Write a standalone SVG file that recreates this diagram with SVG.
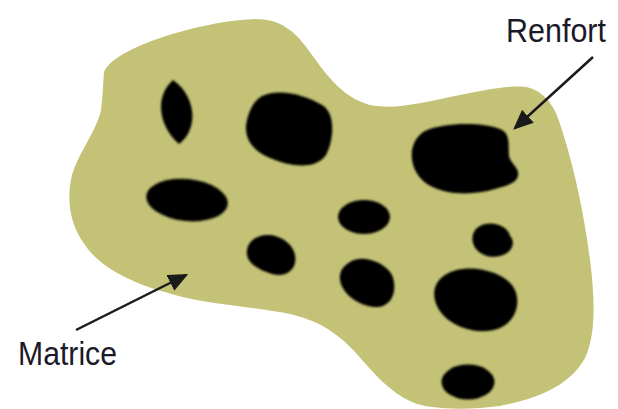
<svg xmlns="http://www.w3.org/2000/svg" width="618" height="409" viewBox="0 0 618 409">
  <style>
    .matrix { fill: #c4c276; }
    .fiber { fill: #000; filter: url(#soft); }
    .label { font-family: "Liberation Sans", Arial, sans-serif; font-size: 34px; fill: #1a1a28; }
    .arrow { stroke: #1a1a1a; stroke-width: 2.5; fill: none; marker-end: url(#head); }
  </style>
  <defs>
    <filter id="soft" x="-10%" y="-10%" width="120%" height="120%">
      <feGaussianBlur stdDeviation="0.8"/>
    </filter>
    <marker id="head" markerWidth="8" markerHeight="7" refX="7" refY="3.5" orient="auto" markerUnits="strokeWidth">
      <path d="M0,0 L8,3.5 L0,7 Z" fill="#1a1a1a"/>
    </marker>
  </defs>
  <rect width="618" height="409" fill="#fff"/>

  <g id="matrice-shape">
    <path class="matrix" d="M 104,72 C 108,62 125,50 160,38 C 190,28 225,20 255,19 C 280,19 295,30 312,55 C 330,80 345,98 370,105 C 395,110 420,103 460,95 C 490,89 515,84 530,88 C 545,93 555,105 562,130 C 575,170 585,220 590,260 C 595,300 596,335 585,358 C 570,385 540,398 500,406 C 470,410 430,410 412,402 C 390,392 375,375 355,352 C 335,330 315,320 290,314 C 250,306 200,304 165,292 C 135,284 100,268 85,245 C 70,225 66,200 72,175 C 80,150 97,130 101,110 C 103,95 103,84 104,72 Z"/>
  </g>

  <g id="renfort-1"><path class="fiber" d="M 173,80 C 195,95 200,128 179,144 C 160,128 153,98 173,80 Z"/></g>
  <g id="renfort-2"><path class="fiber" d="M 262,96 C 280,88 305,95 322,105 C 336,113 334,140 326,155 C 316,170 290,167 270,158 C 250,150 243,135 247,120 C 250,108 255,100 262,96 Z"/></g>
  <g id="renfort-3"><path class="fiber" d="M 425,131 C 445,122 485,122 502,130 C 511,135 508,148 509,156 C 510,163 520,168 518,176 C 516,184 505,186 495,189 C 475,195 450,195 435,188 C 418,182 410,165 412,150 C 414,141 418,135 425,131 Z"/></g>
  <g id="renfort-4"><ellipse class="fiber" cx="187" cy="200" rx="41" ry="21" transform="rotate(6 187 200)"/></g>
  <g id="renfort-5"><path class="fiber" d="M 258,237 C 272,231 292,240 295,255 C 298,270 285,278 272,274 C 258,270 245,262 247,250 C 248,244 252,239 258,237 Z"/></g>
  <g id="renfort-6"><ellipse class="fiber" cx="364" cy="217" rx="26" ry="17"/></g>
  <g id="renfort-7"><path class="fiber" d="M 480,226 C 492,220 508,226 510,236 C 516,242 512,252 503,255 C 490,260 476,254 473,243 C 471,236 474,229 480,226 Z"/></g>
  <g id="renfort-8"><path class="fiber" d="M 350,262 C 362,254 385,262 392,275 C 398,290 392,306 378,307 C 362,308 342,295 340,280 C 339,272 343,266 350,262 Z"/></g>
  <g id="renfort-9"><path class="fiber" d="M 445,275 C 465,262 500,270 512,285 C 522,298 518,320 500,328 C 480,336 455,328 443,315 C 430,300 432,283 445,275 Z"/></g>
  <g id="renfort-10"><ellipse class="fiber" cx="468" cy="382" rx="26.5" ry="17.5"/></g>

  <g id="connectors">
    <line class="arrow" x1="593" y1="57" x2="515" y2="128"/>
    <line class="arrow" x1="76" y1="330" x2="186" y2="275"/>
  </g>

  <g id="label-renfort">
    <text class="label" x="506" y="42" textLength="100" lengthAdjust="spacingAndGlyphs">Renfort</text>
  </g>
  <g id="label-matrice">
    <text class="label" x="18" y="365" textLength="99" lengthAdjust="spacingAndGlyphs">Matrice</text>
  </g>
</svg>
